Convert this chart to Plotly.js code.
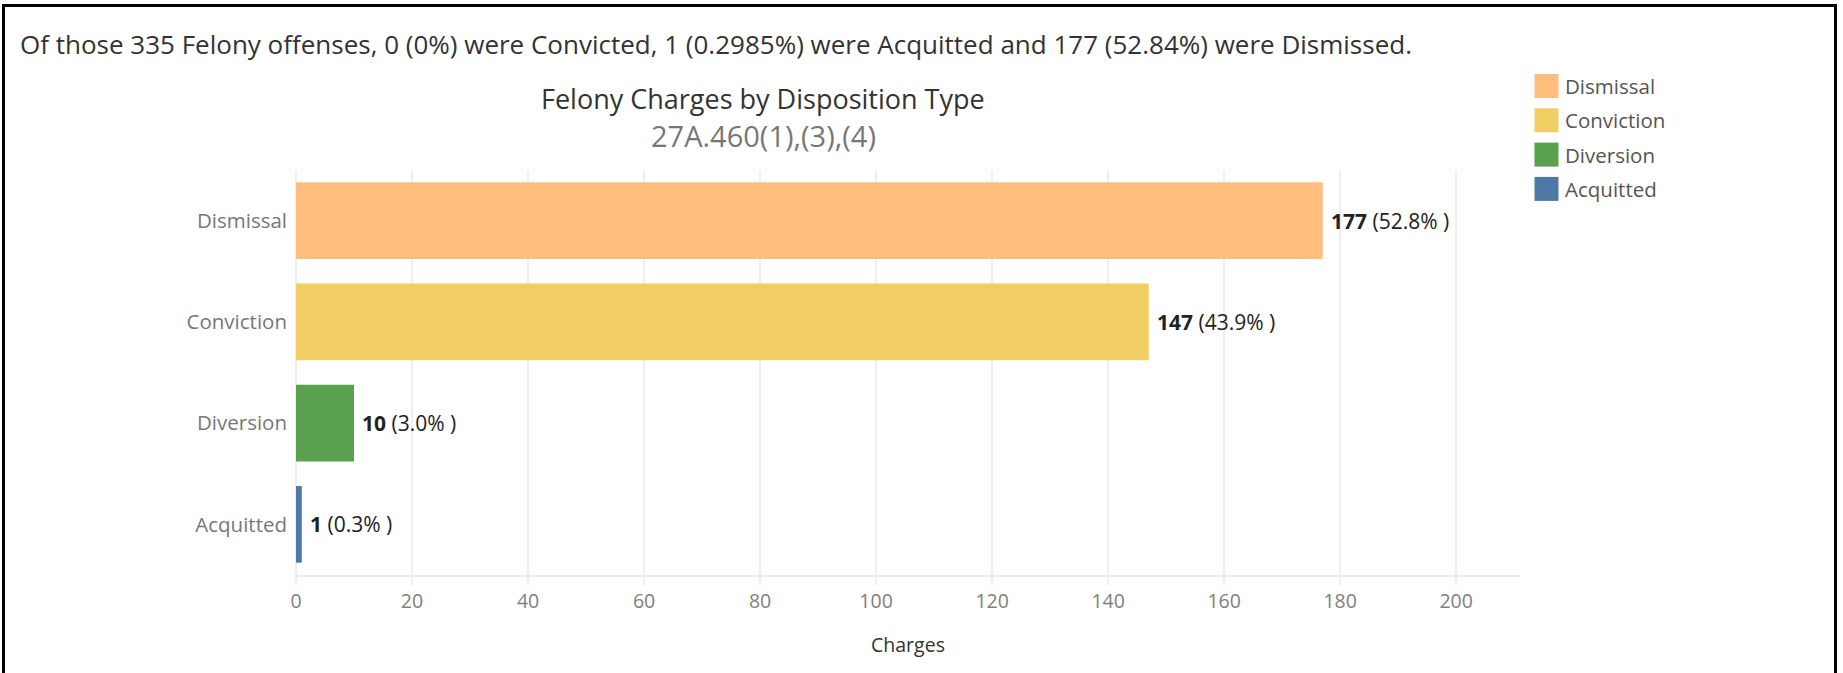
<!DOCTYPE html>
<html>
<head>
<meta charset="utf-8">
<script src="https://cdn.plot.ly/plotly-3.0.1.min.js"></script>
<style>
  html, body { margin: 0; padding: 0; background: #fff; overflow: hidden; }
  #chart { width: 1843px; height: 673px; }
  #frame { position: absolute; left: 2px; top: 4px; width: 1829px; height: 720px;
           border: 3px solid #000; pointer-events: none; }
</style>
</head>
<body>
<div id="chart"></div>
<div id="frame"></div>
<script>
// ---- data ----
const categories = ["Dismissal", "Conviction", "Diversion", "Acquitted"];
const charges = [177, 147, 10, 1];
const xTicks = [0, 20, 40, 60, 80, 100, 120, 140, 160, 180, 200];
const headline = "Of those 335 Felony offenses, 0 (0%) were Convicted, 1 (0.2985%) were Acquitted and 177 (52.84%) were Dismissed.";
const chartTitle = "Felony Charges by Disposition Type";
const chartSubtitle = "27A.460(1),(3),(4)";
const xTitle = "Charges";

// ---- style ----
const colors = ["#FFBE7D", "#F1CE63", "#59A14F", "#4E79A7"];
const W = 1843, H = 673;
const plotL = 296, plotR = 1520, plotT = 170, plotB = 575;
const px = x => (x - plotL) / (plotR - plotL);
const py = y => (plotB - y) / (plotB - plotT);
const FONT = "Open Sans, Noto Sans, sans-serif";

const total = charges.reduce((a, b) => a + b, 0);
const labels = charges.map(v => "<b>" + v + "</b> (" + (100 * v / total).toFixed(1) + "% )");

const trace = {
  type: "bar",
  orientation: "h",
  y: categories,
  x: charges,
  marker: { color: colors, line: { width: 0 } },
  width: 0.757,
  hoverinfo: "x+y",
  showlegend: false
};

const annotations = [];
// value labels
categories.forEach((c, i) => {
  annotations.push({
    x: charges[i], y: c, xref: "x", yref: "y",
    text: labels[i], showarrow: false, xanchor: "left", yanchor: "middle",
    xshift: 6,
    font: { family: FONT, size: 21, color: "#222" }
  });
});
// headline
annotations.push({
  x: px(18), y: py(44), xref: "paper", yref: "paper", text: headline,
  showarrow: false, xanchor: "left", yanchor: "middle",
  font: { family: FONT, size: 26, color: "#333" }
});
// title + subtitle
annotations.push({
  x: px(763), y: py(99), xref: "paper", yref: "paper", text: chartTitle,
  showarrow: false, xanchor: "center", yanchor: "middle",
  font: { family: FONT, size: 27, color: "#333" }
});
annotations.push({
  x: px(763), y: py(135), xref: "paper", yref: "paper", text: chartSubtitle,
  showarrow: false, xanchor: "center", yanchor: "middle",
  font: { family: FONT, size: 29, color: "#777" }
});

// legend (custom, square swatches)
const shapes = [];
const legTop = 74, legStep = 34.3, sw = 24;
categories.forEach((c, i) => {
  const y0 = legTop + i * legStep;
  shapes.push({
    type: "rect", xref: "paper", yref: "paper",
    x0: px(1534.5), x1: px(1534.5 + sw), y0: py(y0), y1: py(y0 + sw),
    fillcolor: colors[i], line: { width: 0 }
  });
  annotations.push({
    x: px(1563), y: py(y0 + sw / 2), xref: "paper", yref: "paper", text: c,
    showarrow: false, xanchor: "left", yanchor: "middle",
    font: { family: FONT, size: 20.5, color: "#555" }
  });
});

const layout = {
  width: W, height: H,
  margin: { l: plotL, r: W - plotR, t: plotT, b: H - plotB, pad: 0 },
  paper_bgcolor: "#fff", plot_bgcolor: "#fff",
  showlegend: false,
  bargap: 0.24,
  font: { family: FONT, color: "#666" },
  xaxis: {
    range: [0, 211], tickvals: xTicks, ticktext: xTicks.map(String),
    showgrid: true, gridcolor: "#efefef", gridwidth: 1.5,
    zeroline: true, zerolinecolor: "#efefef", zerolinewidth: 1.5,
    showline: true, linecolor: "#ebebeb", linewidth: 2,
    ticks: "outside", ticklen: 8, tickcolor: "#efefef", tickwidth: 1.5,
    tickfont: { family: FONT, size: 19.5, color: "#808080" },
    title: { text: xTitle, standoff: 25, font: { family: FONT, size: 19.5, color: "#333" } },
    fixedrange: true, automargin: false
  },
  yaxis: {
    type: "category", categoryorder: "array", categoryarray: categories,
    range: [3.5, -0.5],
    showgrid: false, zeroline: false, showline: false, ticks: "",
    ticklabelstandoff: 8,
    tickfont: { family: FONT, size: 20.5, color: "#777" },
    fixedrange: true, automargin: false
  },
  annotations: annotations,
  shapes: shapes
};

Plotly.newPlot("chart", [trace], layout, { displayModeBar: false, staticPlot: true });
</script>
</body>
</html>
